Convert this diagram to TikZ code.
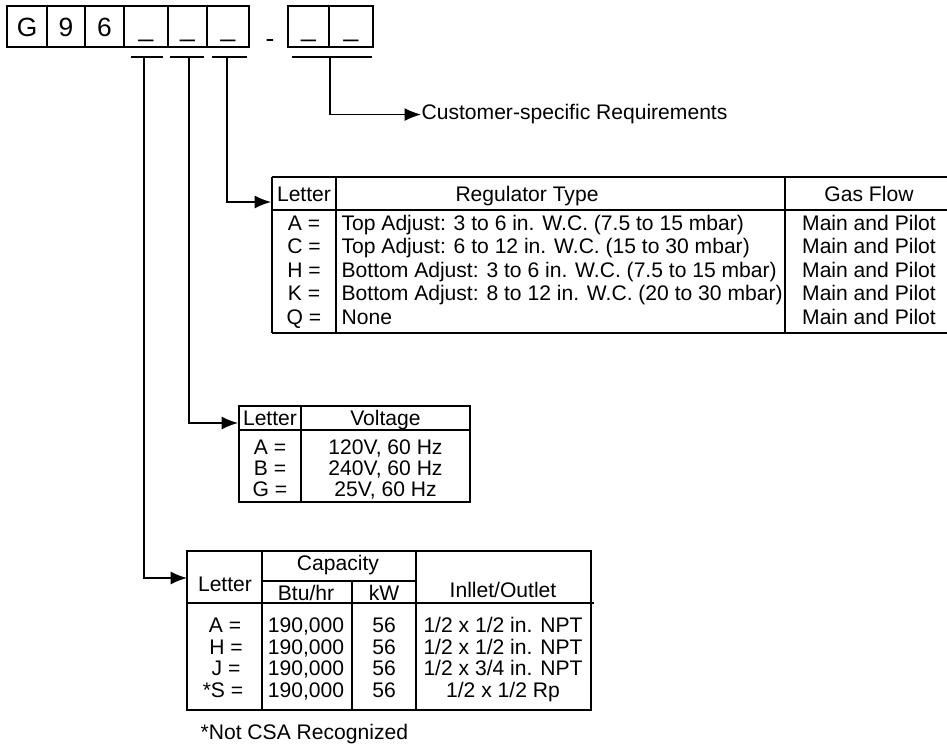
\documentclass[tikz,border=0pt]{standalone}
\usepackage{fontspec}
\setmainfont{Liberation Sans}
\usetikzlibrary{arrows.meta}
\newcommand\tabfont{\fontsize{12}{14}\selectfont}
\newcommand\boxfont{\fontsize{15}{18}\selectfont}
\tikzset{
  cell/.style={anchor=base, inner sep=0pt, font=\tabfont},
  lcell/.style={anchor=base west, inner sep=0pt, font=\tabfont},
  digit/.style={anchor=base, inner sep=0pt, font=\boxfont},
  >={Latex[length=3.3mm, width=2.6mm]}
}
\begin{document}
\begin{tikzpicture}[x=0.02cm, y=-0.02cm, line width=0.25mm]
\useasboundingbox (0, 0) rectangle (947, 746);
\draw (7, 6) rectangle (249, 47) (288, 6) rectangle (373, 47);
\draw (47, 6) -- (47, 47) (85, 6) -- (85, 47) (124, 6) -- (124, 47) (168, 6) -- (168, 47) (207, 6) -- (207, 47) (329, 6) -- (329, 47);
\node (g) at (27, 37) [digit] {G};
\node (nine) at (66, 37) [digit] {9};
\node (six) at (104.5, 37) [digit] {6};
\node (capslot) at (146, 37) [digit] {\_};
\node (voltslot) at (187.5, 37) [digit] {\_};
\node (regslot) at (228, 37) [digit] {\_};
\node (hyph) at (270, 48) [digit] {-};
\node (custslota) at (308.5, 37) [digit] {\_};
\node (custslotb) at (351, 37) [digit] {\_};
\draw (131, 57) -- (163, 57) (170, 57) -- (204, 57) (212, 57) -- (247, 57) (292, 57) -- (372, 57);
\coordinate (capbar) at (144, 57);
\coordinate (voltbar) at (189, 57);
\coordinate (regbar) at (227, 57);
\coordinate (custbar) at (330, 57);
\coordinate (capin) at (187, 578);
\coordinate (voltin) at (238, 423);
\coordinate (regin) at (271, 202);
\node (cust) at (421, 120) [lcell] {Customer-specific Requirements};
\draw [->] (custbar) |- (cust.west);
\draw [->] (regbar) |- (regin);
\draw [->] (voltbar) |- (voltin);
\draw [->] (capbar) |- (capin);
\draw (272, 177) -- (947, 177) (272, 210) -- (947, 210) (272, 333) -- (947, 333) (272, 177) -- (272, 333) (336, 177) -- (336, 333) (785, 177) -- (785, 333);
\node (rletter) at (304, 202) [cell] {Letter};
\node (rtype) at (527, 202) [cell] {Regulator Type};
\node (rflow) at (869, 202) [cell] {Gas Flow};
\node (ra) at (304, 230.5) [cell] {A =};
\node (radesc) at (341, 230.5) [lcell] {Top Adjust: 3 to 6 in. W.C. (7.5 to 15 mbar)};
\node (raflow) at (869, 230.5) [cell] {Main and Pilot};
\node (rc) at (304, 254) [cell] {C =};
\node (rcdesc) at (341, 254) [lcell] {Top Adjust: 6 to 12 in. W.C. (15 to 30 mbar)};
\node (rcflow) at (869, 254) [cell] {Main and Pilot};
\node (rh) at (304, 277.5) [cell] {H =};
\node (rhdesc) at (341, 277.5) [lcell] {Bottom Adjust: 3 to 6 in. W.C. (7.5 to 15 mbar)};
\node (rhflow) at (869, 277.5) [cell] {Main and Pilot};
\node (rk) at (304, 301) [cell] {K =};
\node (rkdesc) at (341, 301) [lcell] {Bottom Adjust: 8 to 12 in. W.C. (20 to 30 mbar)};
\node (rkflow) at (869, 301) [cell] {Main and Pilot};
\node (rq) at (304, 324.5) [cell] {Q =};
\node (rqdesc) at (341, 324.5) [lcell] {None};
\node (rqflow) at (869, 324.5) [cell] {Main and Pilot};
\draw (239, 406) rectangle (470, 502) (239, 430) -- (470, 430) (301, 406) -- (301, 502);
\node (vletter) at (270, 425.5) [cell] {Letter};
\node (vvolt) at (385.5, 425.5) [cell] {Voltage};
\node (va) at (270, 454.5) [cell] {A =};
\node (vaval) at (385.5, 454.5) [cell] {120V, 60 Hz};
\node (vb) at (270, 475.5) [cell] {B =};
\node (vbval) at (385.5, 475.5) [cell] {240V, 60 Hz};
\node (vg) at (270, 496.5) [cell] {G =};
\node (vgval) at (385.5, 496.5) [cell] {25V, 60 Hz};
\draw (187, 551) rectangle (591, 710) (262, 581) -- (416, 581) (187, 603) -- (594, 603) (262, 551) -- (262, 710) (352, 581) -- (352, 710) (416, 551) -- (416, 710);
\node (cletter) at (225, 591) [cell] {Letter};
\node (ccap) at (338, 570) [cell] {Capacity};
\node (cbtu) at (306, 600) [cell] {Btu/hr};
\node (ckw) at (384, 600) [cell] {kW};
\node (cport) at (503, 597) [cell] {Inllet/Outlet};
\node (ca) at (225, 632.5) [cell] {A =};
\node (cabtu) at (306, 632.5) [cell] {190,000};
\node (cakw) at (384, 632.5) [cell] {56};
\node (caport) at (503, 632.5) [cell] {1/2 x 1/2 in. NPT};
\node (ch) at (226, 654.5) [cell] {H =};
\node (chbtu) at (306, 654.5) [cell] {190,000};
\node (chkw) at (384, 654.5) [cell] {56};
\node (chport) at (503, 654.5) [cell] {1/2 x 1/2 in. NPT};
\node (cj) at (226, 675.5) [cell] {J =};
\node (cjbtu) at (306, 675.5) [cell] {190,000};
\node (cjkw) at (384, 675.5) [cell] {56};
\node (cjport) at (503, 675.5) [cell] {1/2 x 3/4 in. NPT};
\node (cs) at (223, 697.5) [cell] {*S =};
\node (csbtu) at (306, 697.5) [cell] {190,000};
\node (cskw) at (384, 697.5) [cell] {56};
\node (csport) at (503, 697.5) [cell] {1/2 x 1/2 Rp};
\node (note) at (200, 739) [lcell] {*Not CSA Recognized};
\end{tikzpicture}
\end{document}
